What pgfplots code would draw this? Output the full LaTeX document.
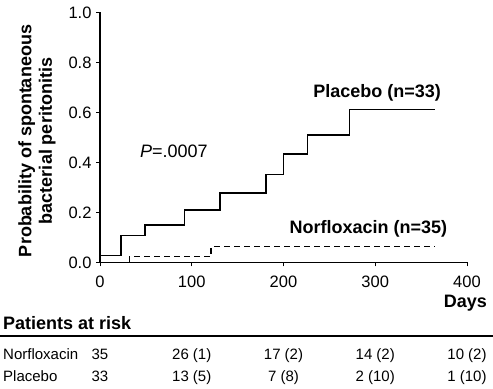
\documentclass[border=0pt]{standalone}
\usepackage{pgfplots}
\pgfplotsset{compat=1.18}
\usepackage{fontspec}
\setmainfont{Liberation Sans}
\begin{document}
\begin{tikzpicture}
\path[use as bounding box] (0bp,0bp) rectangle (493bp,389bp);
\begin{axis}[
  at={(100bp,126.5bp)}, anchor=south west,
  scale only axis, width=367bp, height=250bp,
  xmin=0, xmax=400, ymin=0, ymax=1,
  axis lines=left, axis line style={-, line width=1.2bp},
  xtick={0,100,200,300,400}, ytick={0,0.2,0.4,0.6,0.8,1},
  tick align=outside, major tick length=4bp,
  tick style={line width=1bp, black},
  ticklabel style={font=\fontsize{16.5bp}{19bp}\selectfont},
  xticklabel style={yshift=-6bp},
  yticklabel style={xshift=-1bp, /pgf/number format/.cd, fixed, fixed zerofill, precision=1},
  /pgf/number format/assume math mode=true,
  clip=false,
]
\addplot[const plot, black, line width=1.5bp] coordinates {
  (0,0.028) (23,0.108) (49,0.149) (92,0.209) (131,0.277) (181,0.352)
  (200,0.433) (226,0.51) (272,0.612) (365,0.612)};
\addplot[const plot, black, line width=1.5bp, dash pattern=on 6bp off 4bp] coordinates {
  (0,0) (32,0.024) (121,0.064) (365,0.064)};
\node[font=\fontsize{18bp}{21bp}\selectfont] at (axis cs:80.6,0.446) {\textit{P}=.0007};
\node[font=\bfseries\fontsize{18bp}{21bp}\selectfont] at (axis cs:302,0.679) {Placebo (n=33)};
\node[font=\bfseries\fontsize{18bp}{21bp}\selectfont] at (axis cs:292.6,0.133) {Norfloxacin (n=35)};
\end{axis}
\node[rotate=90, align=center, font=\bfseries\fontsize{18bp}{20.5bp}\selectfont] at (37bp,248bp) {Probability of spontaneous\\bacterial peritonitis};
\node[anchor=east, inner sep=0pt, font=\bfseries\fontsize{18bp}{21bp}\selectfont] at (487bp,86bp) {Days};
\node[anchor=west, inner sep=0pt, font=\bfseries\fontsize{18bp}{21bp}\selectfont] at (3bp,66bp) {Patients at risk};
\draw[line width=1.3bp] (0bp,53bp) -- (493bp,53bp);
\begin{scope}[every node/.style={anchor=base, inner sep=0pt, font=\fontsize{15bp}{18bp}\selectfont}]
\node[anchor=base west] at (3bp,29.5bp) {Norfloxacin};
\node at (100bp,29.5bp) {35};
\node at (191.75bp,29.5bp) {26 (1)};
\node at (283.5bp,29.5bp) {17 (2)};
\node at (375.25bp,29.5bp) {14 (2)};
\node at (467bp,29.5bp) {10 (2)};
\node[anchor=base west] at (3bp,8bp) {Placebo};
\node at (100bp,8bp) {33};
\node at (191.75bp,8bp) {13 (5)};
\node at (283.5bp,8bp) {7 (8)};
\node at (375.25bp,8bp) {2 (10)};
\node at (467bp,8bp) {1 (10)};
\end{scope}
\end{tikzpicture}
\end{document}
